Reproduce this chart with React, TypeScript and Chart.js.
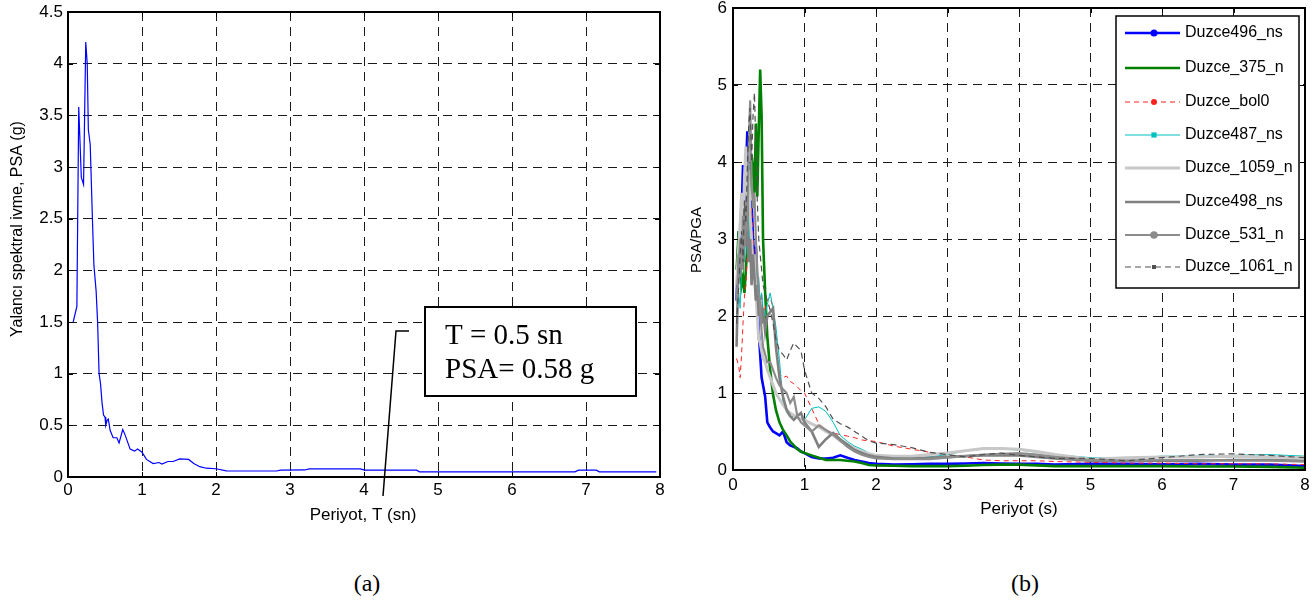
import React, { useEffect, useRef } from 'react';
import { Chart, registerables } from 'chart.js';

Chart.register(...registerables);

// ---------- (a) single response spectrum ----------
const spectrumPeriods = [
  0.07, 0.12, 0.145, 0.18, 0.21, 0.24, 0.26, 0.275, 0.3, 0.33, 0.35, 0.38, 0.4, 0.42, 0.44, 0.46, 0.48, 0.5,
  0.51, 0.53, 0.545, 0.57, 0.61, 0.66, 0.69, 0.74, 0.77, 0.8, 0.84, 0.9, 0.94, 1.0, 1.06, 1.15, 1.23, 1.27,
  1.35, 1.42, 1.51, 1.63, 1.7, 1.78, 1.87, 2.0, 2.14, 2.82, 2.87, 3.2, 3.26, 3.95, 4.01, 4.71, 4.75, 6.85,
  6.9, 7.14, 7.18, 7.95,
];
const spectrumPSA = [
  1.5, 1.65, 3.58, 2.9, 2.83, 4.21, 4.0, 3.36, 3.22, 2.5, 2.05, 1.8, 1.5, 1.0, 0.9, 0.72, 0.6, 0.58,
  0.5, 0.55, 0.56, 0.45, 0.38, 0.38, 0.33, 0.46, 0.41, 0.35, 0.27, 0.25, 0.27, 0.24, 0.17, 0.13, 0.14, 0.125,
  0.15, 0.15, 0.175, 0.17, 0.13, 0.1, 0.085, 0.08, 0.06, 0.058, 0.066, 0.068, 0.078, 0.078, 0.066, 0.066, 0.05, 0.05,
  0.066, 0.066, 0.05, 0.05,
];

// ---------- (b) normalised spectra ----------
const periods = [
  0.05, 0.08, 0.1, 0.12, 0.14, 0.16, 0.18, 0.2, 0.22, 0.24, 0.26, 0.28, 0.3, 0.32, 0.34, 0.36, 0.38, 0.4, 0.42,
  0.45, 0.48, 0.52, 0.56, 0.6, 0.65, 0.7, 0.75, 0.8, 0.85, 0.9, 0.95, 1.0, 1.1, 1.2, 1.3, 1.4, 1.5, 1.6, 1.7,
  1.8, 1.9, 2.0, 2.25, 2.5, 2.75, 3.0, 3.25, 3.5, 3.75, 4.0, 4.25, 4.5, 5.0, 5.5, 6.0, 6.5, 7.0, 7.5, 8.0,
];
const duzce496ns = [
  2.2, 3.1, 2.9, 3.3, 3.96, 3.4, 3.8, 4.4, 3.6, 3.2, 3.5, 3.0, 2.7, 2.9, 2.3, 1.8, 1.5, 1.2, 1.1,
  0.95, 0.62, 0.55, 0.5, 0.48, 0.45, 0.5, 0.36, 0.32, 0.3, 0.28, 0.24, 0.22, 0.17, 0.15, 0.15, 0.16, 0.19, 0.16, 0.13,
  0.11, 0.09, 0.08, 0.07, 0.075, 0.08, 0.08, 0.085, 0.09, 0.085, 0.08, 0.08, 0.07, 0.08, 0.08, 0.075, 0.08, 0.07, 0.07, 0.05,
];
const duzce375n = [
  2.6, 3.1, 2.7, 2.4, 2.5, 2.3, 2.6, 2.9, 3.3, 3.6, 4.1, 3.9, 3.6, 4.5, 3.55, 4.4, 5.2, 4.6, 3.0,
  2.3, 1.73, 1.3, 0.98, 0.78, 0.62, 0.52, 0.45, 0.37, 0.32, 0.27, 0.24, 0.22, 0.19, 0.16, 0.13, 0.13, 0.13, 0.12, 0.11,
  0.09, 0.065, 0.06, 0.055, 0.05, 0.05, 0.05, 0.055, 0.065, 0.07, 0.07, 0.06, 0.05, 0.05, 0.05, 0.05, 0.045, 0.045, 0.04, 0.03,
];
const duzceBol0 = [
  1.45, 1.35, 1.2, 1.5, 1.9, 2.25, 2.4, 2.8, 3.1, 2.9, 3.4, 3.0, 2.7, 2.5, 2.2, 2.4, 2.1, 2.3, 2.0,
  2.1, 2.2, 2.25, 2.1, 1.73, 1.25, 1.2, 1.22, 1.15, 1.12, 1.08, 1.03, 1.0, 0.8, 0.6, 0.52, 0.48, 0.46, 0.44, 0.42,
  0.39, 0.38, 0.37, 0.31, 0.27, 0.23, 0.19, 0.17, 0.13, 0.12, 0.12, 0.12, 0.11, 0.1, 0.09, 0.09, 0.08, 0.08, 0.08, 0.07,
];
const duzce487ns = [
  2.0, 2.3, 2.1, 2.6, 3.2, 2.7, 3.1, 2.8, 3.3, 2.9, 3.0, 2.7, 2.6, 2.8, 2.4, 2.5, 2.2, 2.3, 2.1,
  2.0, 2.15, 2.3, 2.1, 1.86, 1.43, 0.87, 0.75, 0.69, 0.7, 0.68, 0.66, 0.65, 0.8, 0.82, 0.76, 0.62, 0.45, 0.37, 0.31,
  0.27, 0.22, 0.19, 0.16, 0.15, 0.17, 0.2, 0.25, 0.27, 0.27, 0.26, 0.23, 0.2, 0.16, 0.15, 0.18, 0.18, 0.19, 0.2, 0.18,
];
const duzce1059n = [
  2.4, 2.9, 3.2, 3.6, 3.0, 3.8, 4.2, 3.5, 3.9, 3.3, 3.0, 2.6, 2.8, 2.3, 2.0, 1.7, 1.65, 1.55, 1.45,
  1.4, 1.3, 1.2, 1.1, 1.0, 0.92, 0.85, 0.78, 0.74, 0.71, 0.68, 0.66, 0.65, 0.6, 0.56, 0.5, 0.45, 0.38, 0.33, 0.28,
  0.24, 0.21, 0.19, 0.18, 0.18, 0.2, 0.22, 0.25, 0.28, 0.28, 0.27, 0.24, 0.2, 0.14, 0.16, 0.17, 0.17, 0.18, 0.17, 0.16,
];
const duzce498ns = [
  1.6, 2.8, 2.5, 3.0, 2.6, 3.4, 2.9, 3.2, 2.7, 3.0, 2.4, 2.8, 2.5, 2.2, 2.4, 2.0, 2.2, 1.9, 2.1,
  1.8, 2.0, 2.05, 2.1, 1.6, 1.2, 0.95, 0.78, 0.7, 0.65, 0.7, 0.74, 0.62, 0.5, 0.3, 0.4, 0.48, 0.4, 0.33, 0.26,
  0.22, 0.19, 0.17, 0.15, 0.15, 0.16, 0.17, 0.18, 0.19, 0.19, 0.19, 0.17, 0.15, 0.12, 0.12, 0.12, 0.12, 0.13, 0.13, 0.12,
];
const duzce531n = [
  2.2, 2.7, 3.0, 2.6, 3.3, 2.9, 3.5, 3.1, 4.2, 4.8, 3.8, 3.4, 3.6, 3.0, 2.6, 2.3, 2.1, 1.8, 1.6,
  1.5, 1.4, 1.4, 1.3, 1.2, 1.1, 1.05, 1.0, 0.87, 0.95, 0.7, 0.62, 0.58, 0.5, 0.58, 0.52, 0.46, 0.38, 0.3, 0.24,
  0.2, 0.17, 0.15, 0.14, 0.14, 0.14, 0.16, 0.18, 0.2, 0.21, 0.22, 0.2, 0.17, 0.13, 0.12, 0.13, 0.13, 0.12, 0.12, 0.11,
];
const duzce1061n = [
  1.9, 2.4, 2.8, 3.1, 2.7, 3.5, 3.2, 3.9, 4.5, 4.7, 4.0, 4.6, 4.9, 4.2, 3.5, 3.0, 2.8, 2.6, 2.4,
  2.3, 2.2, 2.08, 1.9, 1.7, 1.55, 1.5, 1.43, 1.55, 1.65, 1.6, 1.55, 1.3, 1.0, 0.93, 0.82, 0.66, 0.6, 0.56, 0.5,
  0.44, 0.38, 0.35, 0.33, 0.29, 0.23, 0.2, 0.17, 0.2, 0.22, 0.19, 0.17, 0.15, 0.15, 0.12, 0.16, 0.2, 0.21, 0.19, 0.16,
];

const seriesNames = [
  'Duzce496_ns', 'Duzce_375_n', 'Duzce_bol0', 'Duzce487_ns',
  'Duzce_1059_n', 'Duzce498_ns', 'Duzce_531_n', 'Duzce_1061_n',
];
const seriesValues = [
  duzce496ns, duzce375n, duzceBol0, duzce487ns, duzce1059n, duzce498ns, duzce531n, duzce1061n,
];

// ---------- tick labels & texts ----------
const xTickLabels = ['0', '1', '2', '3', '4', '5', '6', '7', '8'];
const leftYTickLabels = ['0', '0.5', '1', '1.5', '2', '2.5', '3', '3.5', '4', '4.5'];
const rightYTickLabels = ['0', '1', '2', '3', '4', '5', '6'];
const annotationLines = ['T = 0.5 sn', 'PSA= 0.58 g'];

// ---------- styles ----------
type SeriesStyle = { color: string; width: number; dash: number[]; marker: string | null; msize: number };
const seriesStyles: SeriesStyle[] = [
  { color: '#0000ff', width: 2.6, dash: [], marker: 'circle', msize: 3.5 },
  { color: '#008000', width: 2.6, dash: [], marker: null, msize: 0 },
  { color: '#ff2020', width: 1, dash: [5, 4], marker: 'circle', msize: 3 },
  { color: '#00bfbf', width: 1, dash: [], marker: 'square', msize: 2.6 },
  { color: '#c8c8c8', width: 3, dash: [], marker: null, msize: 0 },
  { color: '#808080', width: 2.6, dash: [], marker: null, msize: 0 },
  { color: '#8c8c8c', width: 2.2, dash: [], marker: 'circle', msize: 3.8 },
  { color: '#505050', width: 1.2, dash: [6, 4], marker: 'square', msize: 2 },
];

const FONT = '"Liberation Sans", Arial, Helvetica, sans-serif';

function framePlugin(extra?: (chart: any) => void) {
  return {
    id: 'matlabFrame',
    afterDraw(chart: any) {
      const { ctx, chartArea } = chart;
      const { left, right, top, bottom } = chartArea;
      const xs = chart.scales.x;
      const ys = chart.scales.y;
      ctx.save();
      ctx.strokeStyle = '#000';
      ctx.lineWidth = 1;
      ctx.setLineDash([]);
      ctx.beginPath();
      xs.ticks.forEach((t: any) => {
        const px = Math.round(xs.getPixelForValue(t.value)) + 0.5;
        ctx.moveTo(px, bottom); ctx.lineTo(px, bottom - 5);
        ctx.moveTo(px, top); ctx.lineTo(px, top + 5);
      });
      ys.ticks.forEach((t: any) => {
        const py = Math.round(ys.getPixelForValue(t.value)) + 0.5;
        ctx.moveTo(left, py); ctx.lineTo(left + 5, py);
        ctx.moveTo(right, py); ctx.lineTo(right - 5, py);
      });
      ctx.stroke();
      ctx.lineWidth = 2;
      ctx.strokeRect(left, top, right - left, bottom - top);
      ctx.restore();
      if (extra) extra(chart);
    },
  };
}

function titlesPlugin(xTitle: string, xCenter: number, xY: number, xFont: string,
  yTitle: string, yX: number, yCenter: number, yFont: string) {
  return {
    id: 'axisTitles',
    afterDraw(chart: any) {
      const ctx = chart.ctx;
      ctx.save();
      ctx.fillStyle = '#000';
      ctx.textAlign = 'center';
      ctx.textBaseline = 'middle';
      ctx.font = xFont;
      ctx.fillText(xTitle, xCenter, xY);
      ctx.translate(yX, yCenter);
      ctx.rotate(-Math.PI / 2);
      ctx.font = yFont;
      ctx.fillText(yTitle, 0, 0);
      ctx.restore();
    },
  };
}

function axisOptions(min: number, max: number, step: number, labels: string[], size: number, pad: number) {
  return {
    type: 'linear',
    min,
    max,
    ticks: {
      stepSize: step,
      autoSkip: false,
      maxRotation: 0,
      padding: pad,
      color: '#000',
      font: { family: FONT, size, lineHeight: 1 },
      callback: (_v: any, i: number) => labels[i],
    },
    grid: { color: '#1a1a1a', lineWidth: 1, drawTicks: false },
    border: { display: false, dash: [9, 6] },
  };
}

function LeftChart() {
  const ref = useRef<HTMLCanvasElement>(null);
  useEffect(() => {
    const canvas = ref.current!;
    const annotation = (chart: any) => {
      const ctx = chart.ctx;
      ctx.save();
      ctx.strokeStyle = '#000';
      ctx.lineWidth = 1.5;
      ctx.beginPath();
      ctx.moveTo(409, 331); ctx.lineTo(396, 331); ctx.lineTo(383, 496);
      ctx.stroke();
      ctx.fillStyle = '#fff';
      ctx.fillRect(425, 307, 211, 89);
      ctx.lineWidth = 2;
      ctx.strokeRect(425, 307, 211, 89);
      ctx.fillStyle = '#000';
      ctx.font = '29px "Liberation Serif", "Times New Roman", serif';
      ctx.textAlign = 'left';
      ctx.textBaseline = 'alphabetic';
      ctx.fillText(annotationLines[0], 445, 344);
      ctx.fillText(annotationLines[1], 445, 378);
      ctx.restore();
    };
    const chart = new Chart(canvas, {
      type: 'line',
      data: {
        datasets: [{
          data: spectrumPeriods.map((t, i) => ({ x: t, y: spectrumPSA[i] })),
          borderColor: '#0000ff',
          borderWidth: 1.2,
          pointRadius: 0,
          tension: 0,
          fill: false,
        }],
      },
      options: {
        animation: false,
        responsive: false,
        devicePixelRatio: 1,
        layout: { padding: { top: 12, right: 20, left: 0, bottom: 0 } },
        plugins: { legend: { display: false }, tooltip: { enabled: false } },
        scales: {
          x: {
            ...axisOptions(0, 8, 1, xTickLabels, 17, 5),
            afterFit: (s: any) => { s.height = 545 - 477; s.paddingLeft = 0; s.paddingRight = 0; },
          },
          y: {
            ...axisOptions(0, 4.5, 0.5, leftYTickLabels, 17, 5),
            afterFit: (s: any) => { s.width = 68; s.paddingTop = 0; s.paddingBottom = 0; },
          },
        },
      } as any,
      plugins: [
        framePlugin(annotation),
        titlesPlugin('Periyot, T (sn)', 363, 515, `17px ${FONT}`,
          'Yalancı spektral ivme, PSA (g)', 18, 229, `16px ${FONT}`),
      ],
    });
    return () => chart.destroy();
  }, []);
  return <canvas ref={ref} width={680} height={545} style={{ position: 'absolute', left: 0, top: 0 }} />;
}

function RightChart() {
  const ref = useRef<HTMLCanvasElement>(null);
  useEffect(() => {
    const canvas = ref.current!;
    const legend = (chart: any) => {
      const ctx = chart.ctx;
      const bx = 436, by = 16, bw = 183, bh = 272;
      const rows = [33, 68, 102, 135, 168, 202, 235, 267];
      ctx.save();
      ctx.fillStyle = '#fff';
      ctx.fillRect(bx, by, bw, bh);
      ctx.strokeStyle = '#000';
      ctx.lineWidth = 1.5;
      ctx.setLineDash([]);
      ctx.strokeRect(bx, by, bw, bh);
      seriesNames.forEach((name, i) => {
        const st = seriesStyles[i];
        const y = rows[i];
        ctx.strokeStyle = st.color;
        ctx.lineWidth = st.width;
        ctx.setLineDash(st.dash);
        ctx.beginPath();
        ctx.moveTo(445, y); ctx.lineTo(500, y);
        ctx.stroke();
        ctx.setLineDash([]);
        if (st.marker) {
          ctx.fillStyle = st.color;
          ctx.beginPath();
          if (st.marker === 'circle') ctx.arc(474, y, st.msize, 0, Math.PI * 2);
          else ctx.rect(474 - st.msize, y - st.msize, st.msize * 2, st.msize * 2);
          ctx.fill();
        }
        ctx.fillStyle = '#000';
        ctx.font = `16px ${FONT}`;
        ctx.textAlign = 'left';
        ctx.textBaseline = 'middle';
        ctx.fillText(name, 505, y);
      });
      ctx.restore();
    };
    const chart = new Chart(canvas, {
      type: 'line',
      data: {
        datasets: seriesValues.map((vals, i) => ({
          label: seriesNames[i],
          data: periods.map((t, j) => ({ x: t, y: vals[j] })),
          borderColor: seriesStyles[i].color,
          borderWidth: seriesStyles[i].width,
          borderDash: seriesStyles[i].dash,
          pointRadius: 0,
          tension: 0,
          fill: false,
          order: seriesValues.length - i,
        })),
      },
      options: {
        animation: false,
        responsive: false,
        devicePixelRatio: 1,
        layout: { padding: { top: 8, right: 11, left: 0, bottom: 0 } },
        plugins: { legend: { display: false }, tooltip: { enabled: false } },
        scales: {
          x: {
            ...axisOptions(0, 8, 1, xTickLabels, 17, 7),
            afterFit: (s: any) => { s.height = 545 - 470; s.paddingLeft = 0; s.paddingRight = 0; },
          },
          y: {
            ...axisOptions(0, 6, 1, rightYTickLabels, 17, 6),
            afterFit: (s: any) => { s.width = 53; s.paddingTop = 0; s.paddingBottom = 0; },
          },
        },
      } as any,
      plugins: [
        framePlugin(legend),
        titlesPlugin('Periyot (s)', 339, 509, `17px ${FONT}`, 'PSA/PGA', 17, 240, `15px ${FONT}`),
      ],
    });
    return () => chart.destroy();
  }, []);
  return <canvas ref={ref} width={636} height={545} style={{ position: 'absolute', left: 680, top: 0 }} />;
}

const captionStyle: React.CSSProperties = {
  position: 'absolute',
  top: 569,
  width: 80,
  textAlign: 'center',
  fontFamily: '"Liberation Serif", "Times New Roman", serif',
  fontSize: 24,
  lineHeight: '28px',
  color: '#000',
};

export default function App() {
  return (
    <div style={{ position: 'absolute', left: 0, top: 0, width: 1316, height: 600, background: '#fff' }}>
      <LeftChart />
      <RightChart />
      <div style={{ ...captionStyle, left: 367 - 40 }}>(a)</div>
      <div style={{ ...captionStyle, left: 1025 - 40 }}>(b)</div>
    </div>
  );
}
